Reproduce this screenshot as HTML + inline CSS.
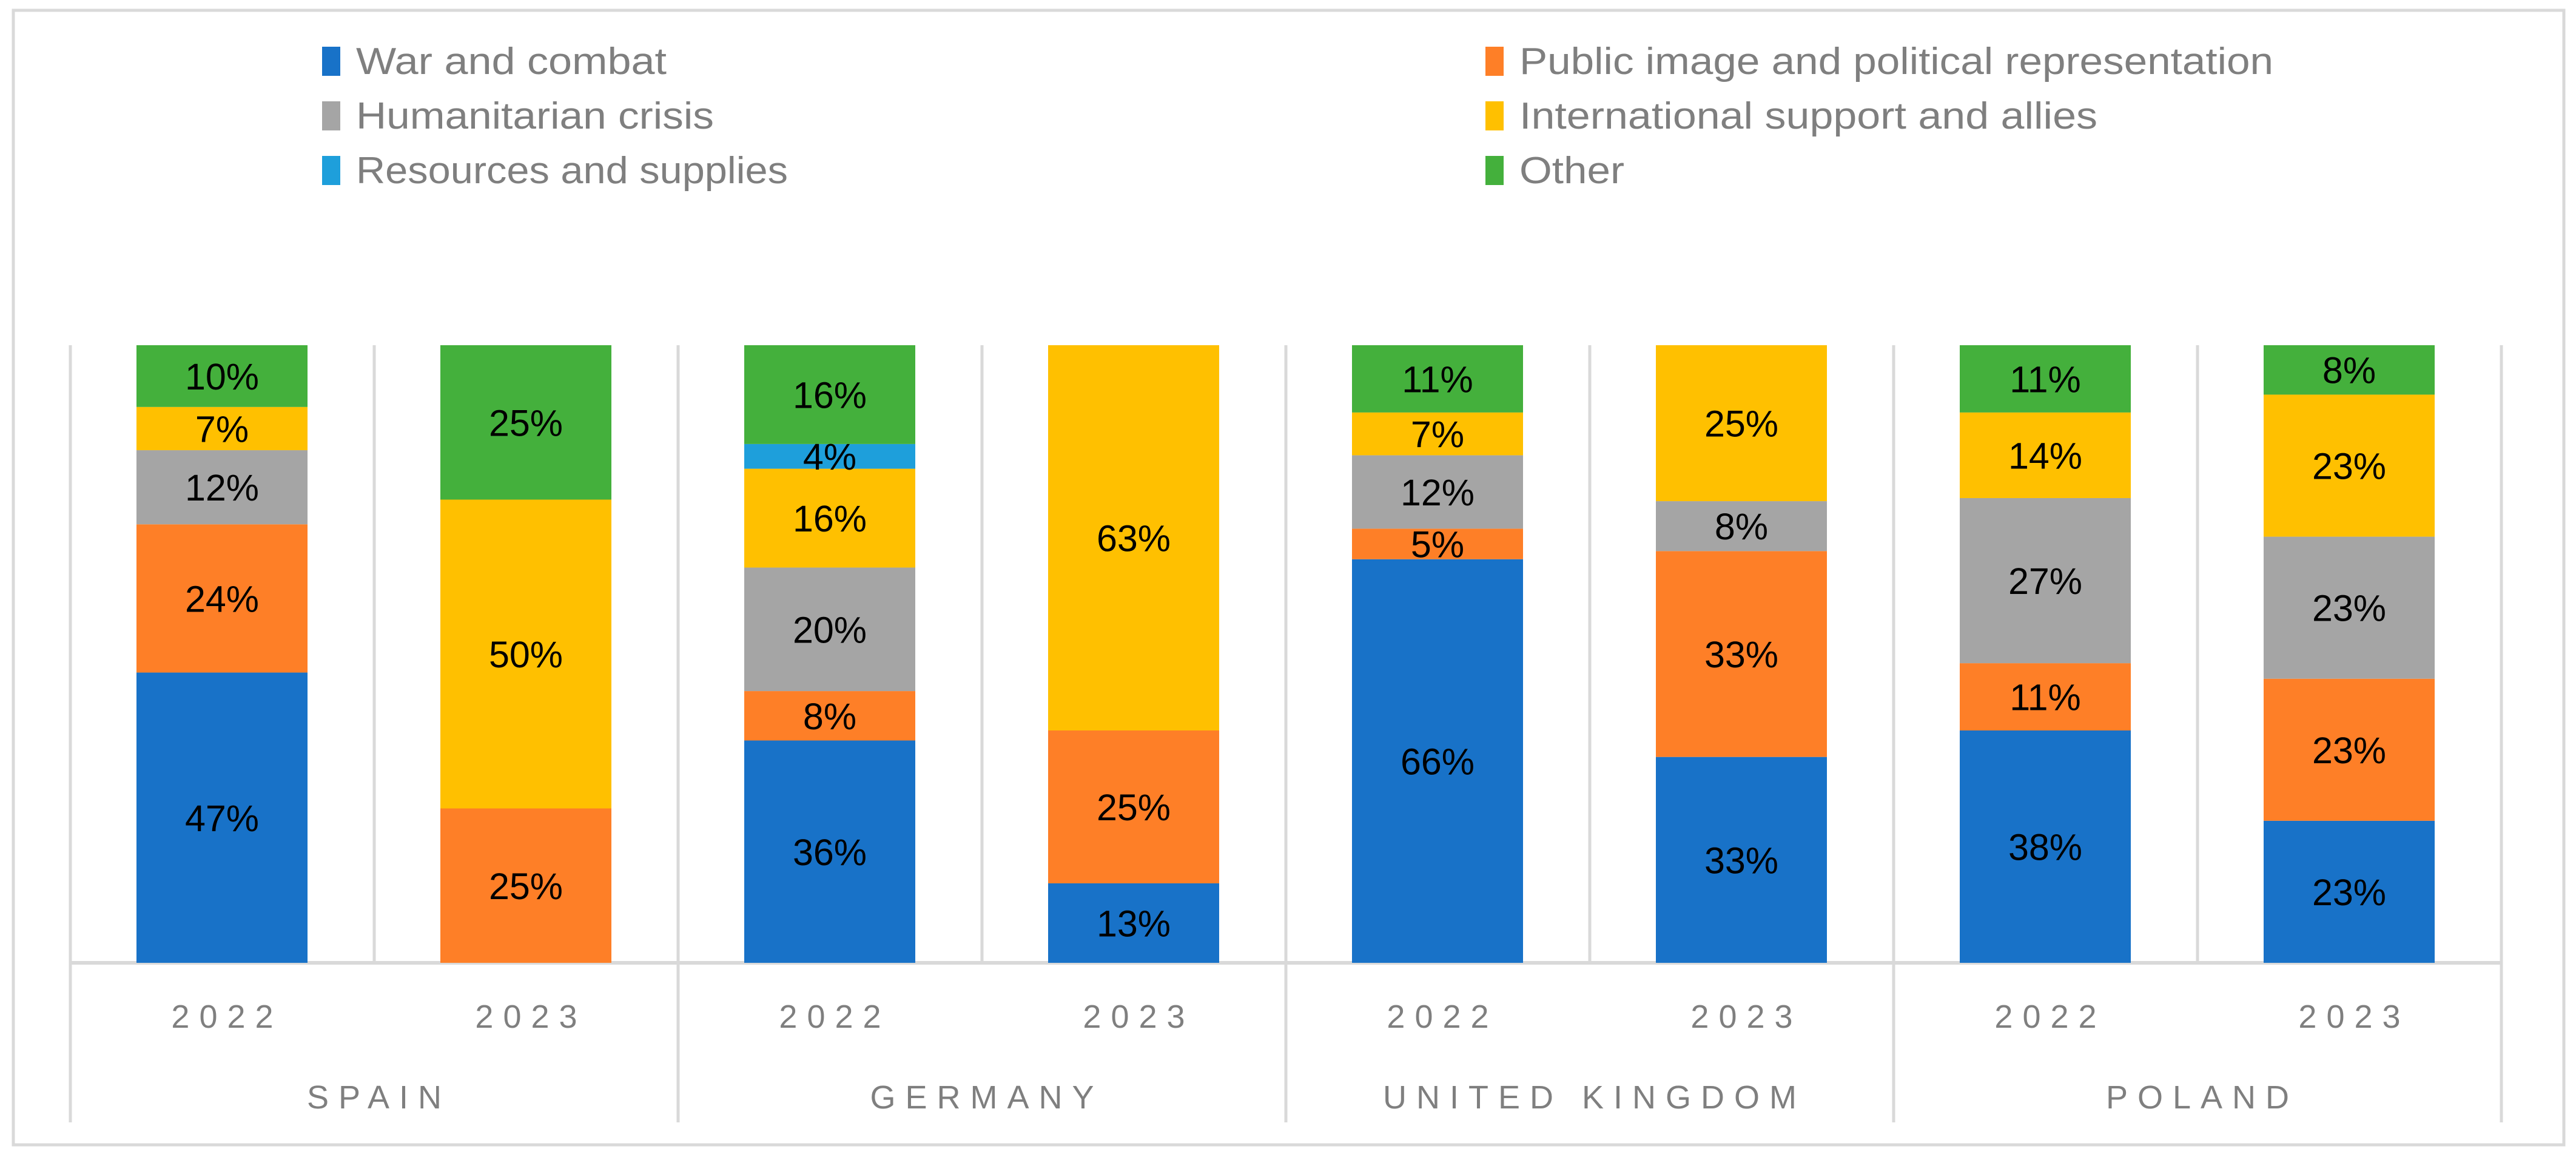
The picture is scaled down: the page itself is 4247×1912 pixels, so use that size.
<!DOCTYPE html>
<html><head><meta charset="utf-8"><style>
html,body{margin:0;padding:0;background:#fff;}
svg{display:block;font-family:"Liberation Sans",sans-serif;}
</style></head><body>
<svg id="chart" width="4247" height="1912" viewBox="0 0 4247 1912" xmlns="http://www.w3.org/2000/svg">
<rect x="22" y="17" width="4205" height="1870" fill="#fff" stroke="#d9d9d9" stroke-width="5"/>
<g id="legend"></g>
<g id="grid"></g>
<g id="bars"></g>
<g id="labels"></g>
</svg>
<script>
const seriesNames = ["War and combat","Public image and political representation","Humanitarian crisis","International support and allies","Resources and supplies","Other"];
const seriesColors = ["#1872c8","#fe7f27","#a5a5a5","#ffc000","#1e9fdb","#44b03c"];
const countries = ["SPAIN","GERMANY","UNITED KINGDOM","POLAND"];
const years = ["2022","2023"];
const war =        [47,0, 36,13, 66,33, 38,23];
const publicImage =[24,25, 8,25, 5,33, 11,23];
const humanitarian=[12,0, 20,0, 12,8, 27,23];
const intlSupport= [7,50, 16,63, 7,25, 14,23];
const resources =  [0,0, 4,0, 0,0, 0,0];
const other =      [10,25, 16,0, 11,0, 11,8];
const series = [war,publicImage,humanitarian,intlSupport,resources,other];

const NS="http://www.w3.org/2000/svg";
function mk(tag,attrs,parent){const e=document.createElementNS(NS,tag);for(const k in attrs)e.setAttribute(k,attrs[k]);parent.appendChild(e);return e;}
const plotLeft=116, slotW=501, plotTop=569, plotBase=1587;
function xSlot(i){return plotLeft+i*slotW;}
function yScale(f){return plotBase-f*(plotBase-plotTop);}

const leg=document.getElementById('legend');
const legX=[531,2449];
const textLens=[[512,590,712],[1243,953,173]];
for(let i=0;i<seriesNames.length;i++){
  const col=i%2,row=Math.floor(i/2);
  const g=mk('g',{},leg);
  
  
  mk('rect',{x:legX[col],y:77+row*90,width:30,height:48,fill:seriesColors[i]},g);
  const t=mk('text',{x:legX[col]+56,y:122+row*90,'font-size':62,fill:'#7f7f7f',textLength:textLens[col][row],lengthAdjust:'spacingAndGlyphs'},g);
  t.textContent=seriesNames[i];
}

const grid=document.getElementById('grid');
for(let i=0;i<=8;i++){
  const isGroup=i%2===0;
  const l=mk('line',{x1:xSlot(i),x2:xSlot(i),y1:plotTop,y2:isGroup?1850:plotBase,stroke:'#d9d9d9','stroke-width':5},grid);
  
  
}
const ax=mk('line',{x1:plotLeft,x2:xSlot(8),y1:plotBase,y2:plotBase,stroke:'#d9d9d9','stroke-width':6},grid);



const bars=document.getElementById('bars');
const labels=document.getElementById('labels');
for(let c=0;c<8;c++){
  let sum=0;for(const s of series)sum+=s[c];
  let acc=0;
  const x=xSlot(c)+109, w=282;
  for(let s=0;s<series.length;s++){
    const val=series[s][c];
    if(val<=0)continue;
    const y1=yScale(acc/sum), y2=yScale((acc+val)/sum);
    const r=mk('rect',{x:x,y:y2,width:w,height:y1-y2,fill:seriesColors[s]},bars);
    
    
    const t=mk('text',{x:x+w/2,y:(y1+y2)/2+22,'font-size':61,'text-anchor':'middle',fill:'#000'},labels);
    
    
    t.textContent=val+'%';
    acc+=val;
  }
  const yl=mk('text',{x:xSlot(c)+slotW/2+8,y:1694,'font-size':54,'text-anchor':'middle',fill:'#7f7f7f','letter-spacing':16},labels);
  
  
  yl.textContent=years[c%2];
}
for(let g=0;g<4;g++){
  const t=mk('text',{x:xSlot(2*g)+slotW+8,y:1827,'font-size':54,'text-anchor':'middle',fill:'#7f7f7f','letter-spacing':16},labels);
  
  
  t.textContent=countries[g];
}
</script>
</body></html>
